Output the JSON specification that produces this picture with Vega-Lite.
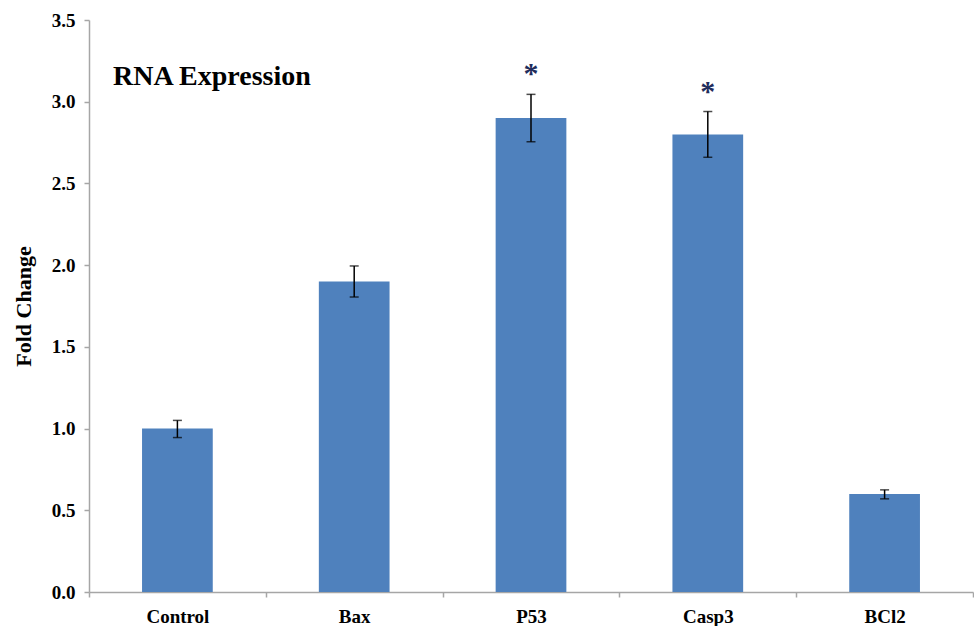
{
  "$schema": "https://vega.github.io/schema/vega-lite/v6.json",
  "autosize": "none",
  "width": 884,
  "height": 572,
  "padding": {"left": 89, "top": 20, "right": 1, "bottom": 34},
  "background": "white",
  "config": {"view": {"stroke": null}, "font": "Liberation Serif"},
  "title": {
    "text": "RNA Expression",
    "anchor": "start",
    "frame": "group",
    "baseline": "alphabetic",
    "offset": 0,
    "dx": 24,
    "dy": 102,
    "font": "Liberation Serif",
    "fontSize": 28,
    "fontWeight": "bold",
    "color": "#000000"
  },
  "data": {
    "values": [
      {"gene": "Control", "value": 1.0, "lo": 0.945, "hi": 1.05, "sig": ""},
      {"gene": "Bax", "value": 1.9, "lo": 1.805, "hi": 1.995, "sig": ""},
      {"gene": "P53", "value": 2.9, "lo": 2.755, "hi": 3.045, "sig": "*"},
      {"gene": "Casp3", "value": 2.8, "lo": 2.66, "hi": 2.94, "sig": "*"},
      {"gene": "BCl2", "value": 0.6, "lo": 0.57, "hi": 0.625, "sig": ""}
    ]
  },
  "encoding": {
    "x": {
      "field": "gene",
      "type": "nominal",
      "sort": null,
      "scale": {"paddingInner": 0, "paddingOuter": 0},
      "axis": {
        "title": null,
        "labelAngle": 0,
        "labelFont": "Liberation Serif",
        "labelFontSize": 19,
        "labelFontWeight": "bold",
        "labelColor": "#000000",
        "labelPadding": 10,
        "tickBand": "extent",
        "tickSize": 5,
        "tickColor": "#a6a6a6",
        "domainColor": "#a6a6a6",
        "domainWidth": 1.5,
        "tickWidth": 1.5
      }
    }
  },
  "layer": [
    {
      "mark": {"type": "bar", "color": "#4f81bd", "width": {"band": 0.4}},
      "encoding": {
        "y": {
          "field": "value",
          "type": "quantitative",
          "scale": {"domain": [0, 3.5], "nice": false},
          "axis": {
            "title": "Fold Change",
            "titleFont": "Liberation Serif",
            "titleFontSize": 22,
            "titleFontWeight": "bold",
            "titleColor": "#000000",
            "titlePadding": 16,
            "values": [0, 0.5, 1, 1.5, 2, 2.5, 3, 3.5],
            "format": ".1f",
            "grid": false,
            "labelFont": "Liberation Serif",
            "labelFontSize": 19,
            "labelFontWeight": "bold",
            "labelColor": "#000000",
            "labelPadding": 9,
            "tickSize": 5,
            "tickColor": "#a6a6a6",
            "domainColor": "#a6a6a6",
            "domainWidth": 1.5,
            "tickWidth": 1.5
          }
        }
      }
    },
    {
      "mark": {"type": "rule", "color": "#000000", "strokeWidth": 1.5},
      "encoding": {
        "y": {"field": "lo", "type": "quantitative"},
        "y2": {"field": "hi"}
      }
    },
    {
      "mark": {"type": "tick", "color": "#000000", "size": 9, "thickness": 1.5, "orient": "horizontal"},
      "encoding": {"y": {"field": "hi", "type": "quantitative"}}
    },
    {
      "mark": {"type": "tick", "color": "#000000", "size": 9, "thickness": 1.5, "orient": "horizontal"},
      "encoding": {"y": {"field": "lo", "type": "quantitative"}}
    },
    {
      "transform": [{"filter": "datum.sig == '*'"}],
      "mark": {"type": "text", "color": "#1f2d5c", "font": "Liberation Serif", "fontSize": 30, "fontWeight": "bold", "baseline": "alphabetic", "dy": -11},
      "encoding": {
        "y": {"field": "hi", "type": "quantitative"},
        "text": {"field": "sig"}
      }
    }
  ]
}
